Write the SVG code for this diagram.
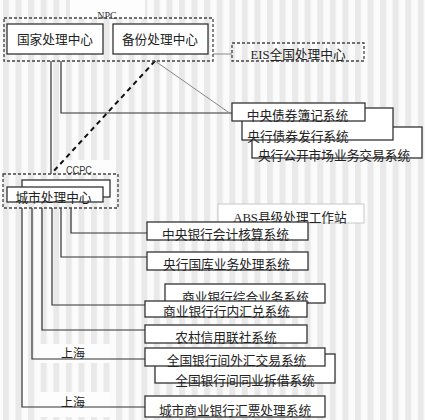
<svg xmlns="http://www.w3.org/2000/svg" width="425" height="420" viewBox="0 0 425 420">
<defs>
<pattern id="stripes" x="3" y="0" width="12.57" height="20" patternUnits="userSpaceOnUse">
<rect x="0" y="0" width="12.57" height="20" fill="#fbfbfb"/>
<rect x="0" y="0" width="6" height="20" fill="#e9e9e9"/>
</pattern>
<style>
.box{fill:#fff;stroke:#333;stroke-width:1.3}
.dbox{fill:none;stroke:#444;stroke-width:1.3;stroke-dasharray:3 2}
.abs{fill:#fff;stroke:#c8c8c8;stroke-width:1}
.t{font-family:"Noto Sans CJK SC",sans-serif;font-size:12.7px;fill:#222;text-anchor:middle}
.lat{font-family:"Liberation Serif",serif}
.lbl{font-family:"Liberation Serif",serif;font-size:10px;fill:#333;text-anchor:middle}
.ln{fill:none;stroke:#333;stroke-width:1.2}
.gl{fill:none;stroke:#888;stroke-width:1}
.dash{fill:none;stroke:#111;stroke-width:2;stroke-dasharray:5 4}
</style>
</defs>
<g id="background">
<rect x="0" y="0" width="425" height="420" fill="url(#stripes)"/>
<rect x="70" y="0" width="75" height="18" fill="#fdfdfd"/>
<rect x="58" y="160" width="58" height="14" fill="#fdfdfd"/>
<rect x="40" y="344" width="70" height="19" fill="#fdfdfd"/>
<rect x="40" y="392" width="70" height="25" fill="#fdfdfd"/>
</g>
<g id="connectors">
<path class="ln" d="M51,61 V174"/>
<path class="ln" d="M61,61 V113 H232"/>
<path class="gl" d="M155,61 L231,114"/>
<path class="gl" d="M213,54 H232"/>
<path class="dash" d="M155,61 L52,173"/>
<path class="ln" d="M71,208 V233 H147"/>
<path class="ln" d="M61,208 V257 H147"/>
<path class="ln" d="M52,208 V305 H145"/>
<path class="ln" d="M42,208 V330 H145"/>
<path class="ln" d="M32,208 V359 H145"/>
<path class="ln" d="M22,208 V407 H145"/>
</g>
<g id="npc">
<rect class="dbox" x="4" y="18" width="209" height="43"/>
<text class="lbl" x="107" y="18.5">NPC</text>
</g>
<g id="national-center">
<rect class="box" x="7" y="24" width="96" height="30"/>
<text class="t" x="55" y="44">国家处理中心</text>
</g>
<g id="backup-center">
<rect class="box" x="113" y="24" width="95" height="30"/>
<text class="t" x="160" y="44">备份处理中心</text>
</g>
<g id="eis">
<rect class="dbox" x="232" y="43" width="132" height="18"/>
<text class="t" x="298" y="59"><tspan class="lat">EIS</tspan>全国处理中心</text>
</g>
<g id="bond-systems">
<rect class="box" x="252" y="127" width="170" height="31"/>
<rect class="box" x="242" y="108" width="151" height="32"/>
<rect class="box" x="232" y="103" width="133" height="18"/>
<text class="t" x="297.5" y="120">中央债券簿记系统</text>
<text class="t" x="298" y="141">央行债券发行系统</text>
<text class="t" x="334" y="160">央行公开市场业务交易系统</text>
</g>
<g id="ccpc">
<rect class="dbox" x="3" y="174" width="115" height="34"/>
<text x="79" y="174" font-family="Liberation Sans, sans-serif" font-size="10.5" fill="#333" text-anchor="middle" textLength="26" lengthAdjust="spacingAndGlyphs">CCPC</text>
</g>
<g id="city-center">
<rect class="box" x="22" y="180" width="88" height="17"/>
<rect class="box" x="7" y="187" width="96" height="15"/>
<text class="t" x="53.5" y="202">城市处理中心</text>
</g>
<g id="abs">
<rect class="abs" x="218" y="204" width="146" height="19"/>
<text class="t" x="290" y="222"><tspan class="lat">ABS</tspan>县级处理工作站</text>
</g>
<g id="central-accounting">
<rect class="box" x="147" y="222" width="161" height="18"/>
<text class="t" x="225.5" y="239">中央银行会计核算系统</text>
</g>
<g id="treasury">
<rect class="box" x="147" y="252" width="161" height="18"/>
<text class="t" x="226.5" y="268.5">央行国库业务处理系统</text>
</g>
<g id="commercial-bank">
<rect class="box" x="165" y="284" width="160" height="19"/>
<text class="t" x="245.5" y="301.5">商业银行综合业务系统</text>
<rect class="box" x="145" y="301" width="162" height="16"/>
<text class="t" x="226.5" y="316">商业银行行内汇兑系统</text>
</g>
<g id="rural-credit">
<rect class="box" x="145" y="325" width="162" height="18"/>
<text class="t" x="226" y="342">农村信用联社系统</text>
</g>
<g id="interbank">
<rect class="box" x="155" y="354" width="180" height="29"/>
<rect class="box" x="145" y="348" width="180" height="18"/>
<text class="t" x="236.5" y="365">全国银行间外汇交易系统</text>
<text class="t" x="245" y="385">全国银行间同业拆借系统</text>
<text class="t" x="73" y="358" style="font-size:12px">上海</text>
</g>
<g id="city-bank-draft">
<rect class="box" x="145" y="396" width="180" height="21"/>
<text class="t" x="235" y="415">城市商业银行汇票处理系统</text>
<text class="t" x="73" y="407" style="font-size:12px">上海</text>
</g>
</svg>
